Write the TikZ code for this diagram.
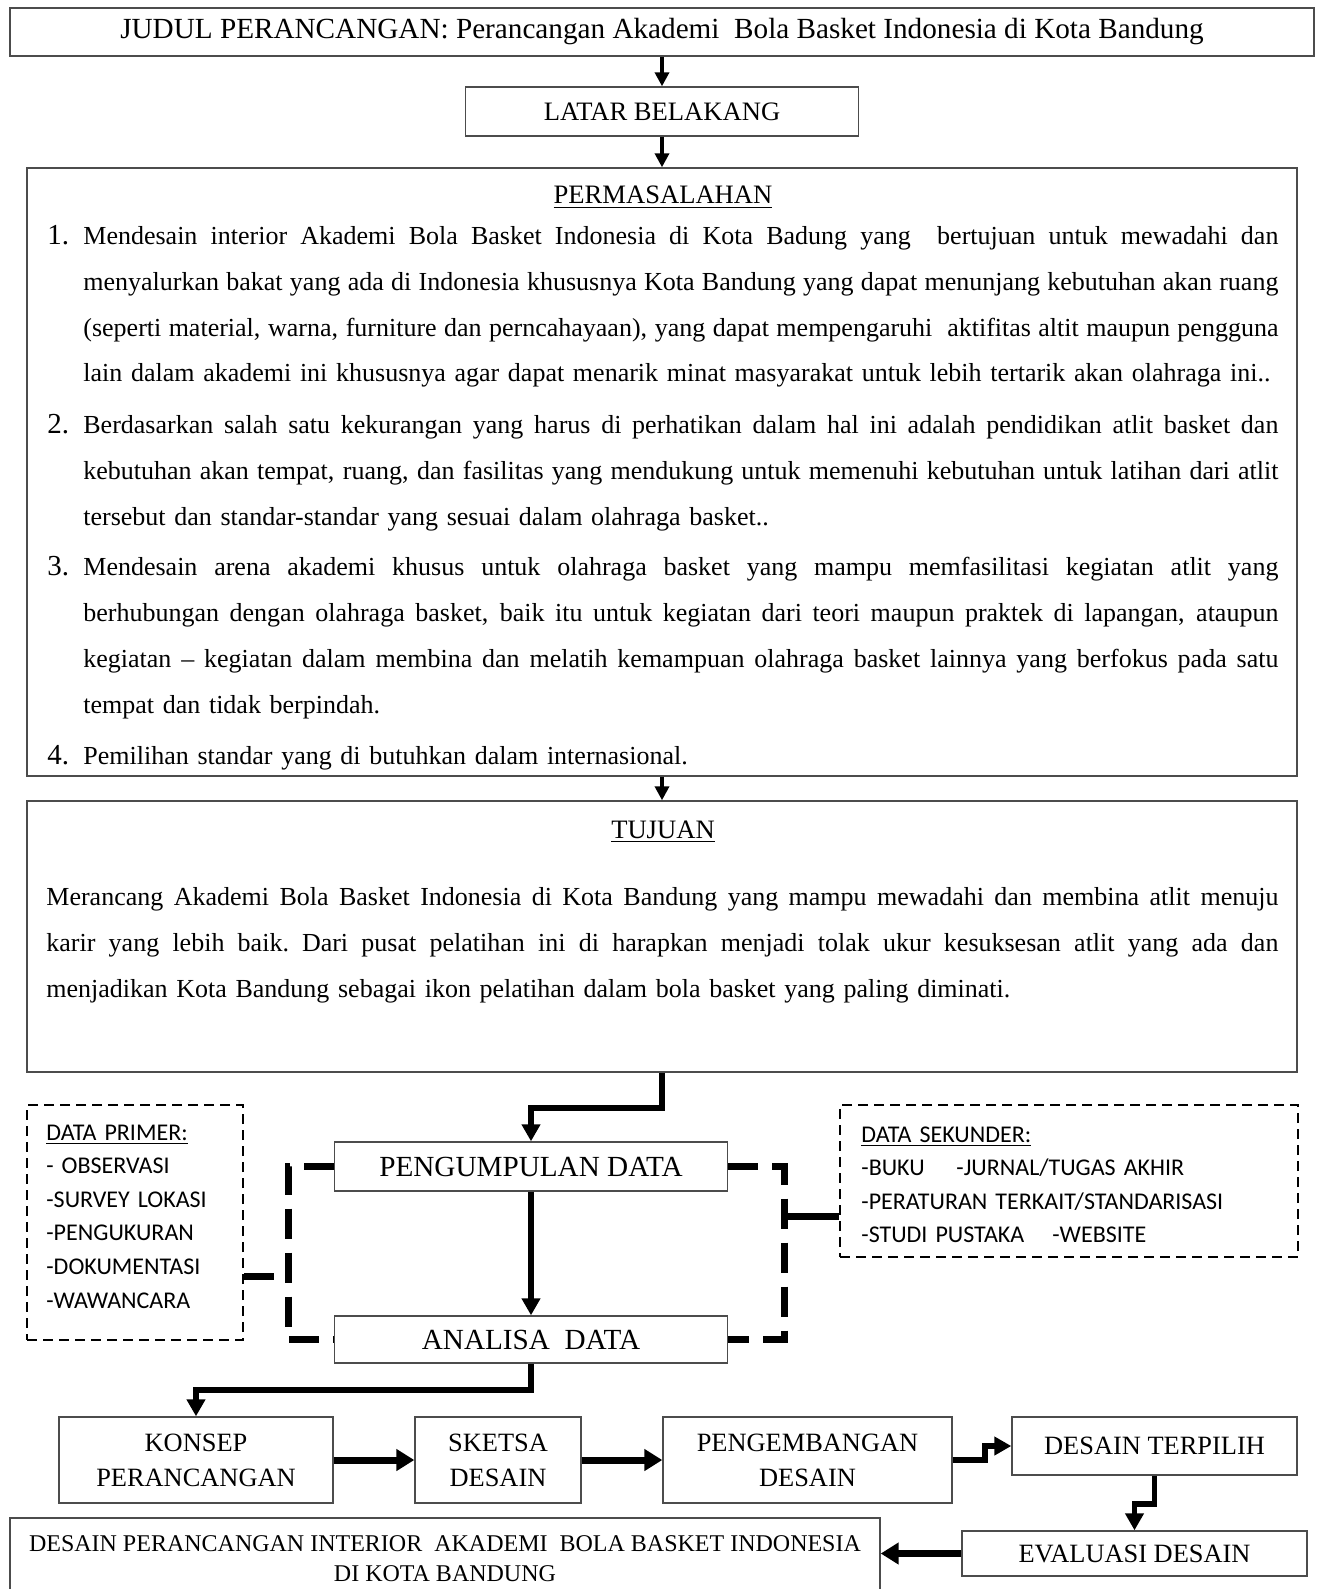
\documentclass[tikz,border=0pt]{standalone}
\usepackage{fontspec}
\setmainfont{Liberation Serif}
\newfontfamily\calfont{Carlito}
\usetikzlibrary{arrows.meta}
\newcommand\myBody{\fontsize{13.0}{23}\selectfont}
\newcommand\myHead{\fontsize{13.3}{23}\selectfont}
\newcommand\myNum{\fontsize{14.5}{23}\selectfont}
\newcommand\myBig{\fontsize{14.6}{18}\selectfont}
\newcommand\myBox{\fontsize{13.2}{17.5}\selectfont}
\newcommand\mySans{\calfont\fontsize{12}{16.8}\selectfont}
\newcommand\mySmall{\fontsize{12}{15}\selectfont}
\newcommand\JLine[2][597.5pt]{\hbox to #1{\spaceskip=0.25em plus 0.3em minus 0.06em\relax #2}}
\begin{document}
\begin{tikzpicture}[x=0.5pt,y=-0.5pt,
  box/.style={draw=black!70, line width=0.7pt, inner sep=0pt, align=center},
  dbox/.style={draw=black, line width=1.1pt, dash pattern=on 5pt off 3pt, inner sep=0pt},
  txt/.style={inner sep=0pt, anchor=base west},
  thinarrow/.style={line width=2pt, -{Triangle[length=7pt,width=7pt]}},
  conn/.style={line width=2.75pt, line join=miter, -{Triangle[length=8.5pt,width=9pt]}},
  bigconn/.style={line width=3.5pt, line join=miter, -{Triangle[length=9pt,width=10.5pt]}},
  bracket/.style={line width=3.5pt, line join=miter, dash pattern=on 15pt off 7pt}
]
\useasboundingbox (0,0) rectangle (1321,1589);

% top boxes
\node[box, line width=1pt, minimum width=652pt, minimum height=24pt, font=\myBig] (title) at (662,32)
  {JUDUL PERANCANGAN: Perancangan Akademi\ \ Bola Basket Indonesia di Kota Bandung};
\node[box, minimum width=196.5pt, minimum height=24.5pt, font=\myHead] (latar) at (662,111.5) {LATAR BELAKANG};
\node[box, minimum width=635pt, minimum height=304pt] (perm) at (662,472) {};
\node[box, minimum width=635pt, minimum height=135.5pt] (tujuan) at (662,936.5) {};

\draw[thinarrow] (title.south) -- (latar.north);
\draw[thinarrow] (latar.south) -- (perm.north);
\draw[thinarrow] (perm.south) -- (tujuan.north);

% permasalahan
\node[inner sep=0pt, anchor=base, font=\myHead] (permhead) at (663,204) {\underline{PERMASALAHAN}};
\node[txt, font=\myNum] (n1) at (47,244) {1.};
\node[txt, font=\myNum] (n2) at (47,433) {2.};
\node[txt, font=\myNum] (n3) at (47,575) {3.};
\node[txt, font=\myNum] (n4) at (47,764) {4.};
\node[txt, text width=597.5pt, font=\myBody] (i1) at (83,244) {%
\JLine{Mendesain interior Akademi Bola Basket Indonesia di Kota Badung yang\ \ bertujuan untuk mewadahi dan}
\JLine{menyalurkan bakat yang ada di Indonesia khususnya Kota Bandung yang dapat menunjang kebutuhan akan ruang}
\JLine{(seperti material, warna, furniture dan perncahayaan), yang dapat mempengaruhi\ \ aktifitas altit maupun pengguna}
\hbox{lain dalam akademi ini khususnya agar dapat menarik minat masyarakat untuk lebih tertarik akan olahraga ini..}};
\node[txt, text width=597.5pt, font=\myBody] (i2) at (83,433) {%
\JLine{Berdasarkan salah satu kekurangan yang harus di perhatikan dalam hal ini adalah pendidikan atlit basket dan}
\JLine{kebutuhan akan tempat, ruang, dan fasilitas yang mendukung untuk memenuhi kebutuhan untuk latihan dari atlit}
\hbox{tersebut dan standar-standar yang sesuai dalam olahraga basket..}};
\node[txt, text width=597.5pt, font=\myBody] (i3) at (83,575) {%
\JLine{Mendesain arena akademi khusus untuk olahraga basket yang mampu memfasilitasi kegiatan atlit yang}
\JLine{berhubungan dengan olahraga basket, baik itu untuk kegiatan dari teori maupun praktek di lapangan, ataupun}
\JLine{kegiatan – kegiatan dalam membina dan melatih kemampuan olahraga basket lainnya yang berfokus pada satu}
\hbox{tempat dan tidak berpindah.}};
\node[txt, text width=597.5pt, font=\myBody] (i4) at (83,764) {\hbox{Pemilihan standar yang di butuhkan dalam internasional.}};

% tujuan
\node[inner sep=0pt, anchor=base, font=\myHead] (tujhead) at (663,838) {\underline{TUJUAN}};
\node[txt, text width=616pt, font=\myBody] (tujtxt) at (46,905) {%
\JLine[616pt]{Merancang Akademi Bola Basket Indonesia di Kota Bandung yang mampu mewadahi dan membina atlit menuju}
\JLine[616pt]{karir yang lebih baik. Dari pusat pelatihan ini di harapkan menjadi tolak ukur kesuksesan atlit yang ada dan}
\hbox{menjadikan Kota Bandung sebagai ikon pelatihan dalam bola basket yang paling diminati.}};

% data section
\node[box, minimum width=196.5pt, minimum height=24.5pt, font=\myBig] (kumpul) at (531,1166.5) {\raisebox{-1pt}{PENGUMPULAN DATA}};
\node[box, minimum width=196.5pt, minimum height=23.5pt, font=\myBig] (analisa) at (531,1339.5) {\raisebox{-2pt}{ANALISA\ \ DATA}};
\node[dbox, minimum width=108pt, minimum height=117.5pt] (primer) at (135,1222.5) {};
\node[dbox, minimum width=229pt, minimum height=76pt] (sekunder) at (1069,1181) {};

\node[txt, text width=95pt, align=left, font=\mySans] (primtxt) at (46,1140) {%
\underline{DATA PRIMER:}\\
- OBSERVASI\\
-SURVEY LOKASI\\
-PENGUKURAN\\
-DOKUMENTASI\\
-WAWANCARA};
\node[txt, text width=220pt, align=left, font=\mySans] (sektxt) at (861,1142) {%
\underline{DATA SEKUNDER:}\\
\makebox[47.5pt][l]{-BUKU}-JURNAL/TUGAS AKHIR\\
-PERATURAN TERKAIT/STANDARISASI\\
\makebox[95.5pt][l]{-STUDI PUSTAKA}-WEBSITE};

\coordinate (j1) at (531,1108);
\draw[conn] (tujuan.south) |- (j1) -- (kumpul.north);
\draw[conn] (kumpul.south) -- (analisa.north);

\coordinate (lt) at (288,1166.5);
\coordinate (lb) at (288,1339.5);
\coordinate (pc) at (288,1276);
\draw[bracket] (kumpul.west) -- (lt) -- (lb) -- (analisa.west);
\draw[bracket] (pc -| primer.east) -- (pc);
\coordinate (rt) at (784,1166.5);
\coordinate (rb) at (784,1339.5);
\coordinate (rc) at (784,1216);
\draw[bracket] (kumpul.east) -- (rt) -- (rb) -- (analisa.east);
\draw[line width=3.5pt] (rc) -- (rc -| sekunder.west);

% bottom flow
\node[box, minimum width=137pt, minimum height=43pt, font=\myBox] (konsep) at (196,1460) {KONSEP\\PERANCANGAN};
\node[box, minimum width=83pt, minimum height=43pt, font=\myBox] (sketsa) at (498,1460) {SKETSA\\DESAIN};
\node[box, minimum width=144.5pt, minimum height=43pt, font=\myBox] (peng) at (807.5,1460) {PENGEMBANGAN\\DESAIN};
\node[box, minimum width=142.5pt, minimum height=29pt, font=\myBox] (terp) at (1154.5,1446) {DESAIN TERPILIH};
\node[box, minimum width=172.5pt, minimum height=22.5pt, font=\myBox] (eval) at (1134.5,1553.5) {EVALUASI DESAIN};
\node[box, minimum width=435pt, minimum height=41pt, font=\mySmall] (final) at (445,1559)
  {DESAIN PERANCANGAN INTERIOR\ \ AKADEMI\ \ BOLA BASKET INDONESIA\\DI KOTA BANDUNG};

\coordinate (j2) at (531,1390);
\draw[conn] (analisa.south) -- (j2) -| (konsep.north);
\draw[bigconn] (konsep.east) -- (sketsa.west);
\draw[bigconn] (sketsa.east) -- (peng.west);
\coordinate (j3) at (985,1452);
\draw[conn] (peng.east) -| (j3) |- (terp.west);
\coordinate (j4) at (1145,1504);
\draw[conn] (terp.south) |- (j4) -| (eval.north);
\draw[bigconn] (eval.west) -- (eval.west -| final.east);
\end{tikzpicture}
\end{document}
